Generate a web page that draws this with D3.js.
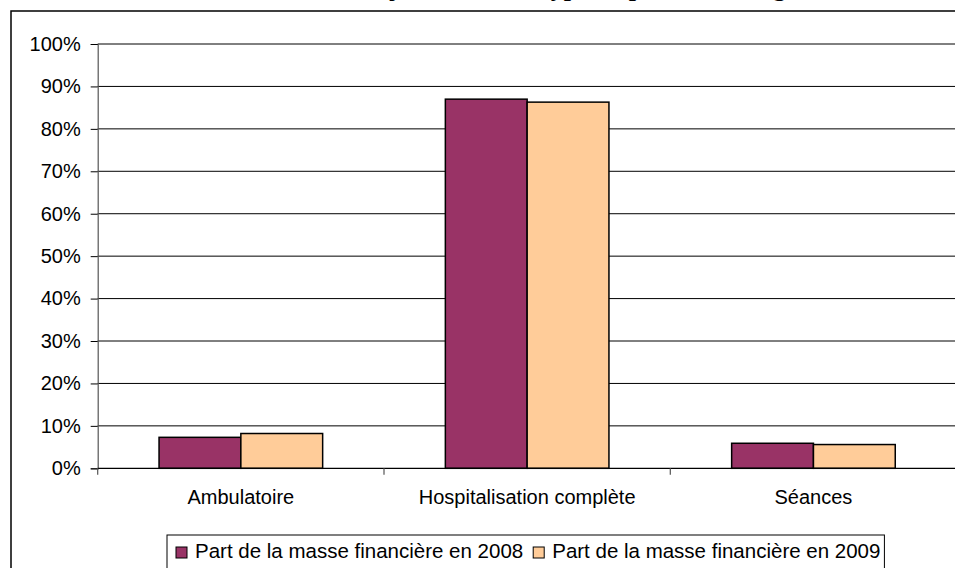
<!DOCTYPE html>
<html>
<head>
<meta charset="utf-8">
<script src="https://cdn.jsdelivr.net/npm/d3@7"></script>
<style>
  html, body { margin: 0; padding: 0; background: #fff; overflow: hidden; }
  svg { display: block; }
  text { font-family: "Liberation Sans", Arial, sans-serif; fill: #000; }
</style>
</head>
<body>
<svg id="chart" width="955" height="568"></svg>
<script>
// ---- data ----
const titleText = "Masse financière des séjours selon le type de prise en charge";
const categories = ["Ambulatoire", "Hospitalisation complète", "Séances"];
const seriesNames = ["Part de la masse financière en 2008", "Part de la masse financière en 2009"];
const values2008 = [7.3, 87.0, 5.9];
const values2009 = [8.2, 86.3, 5.6];
const yTicks = [0, 10, 20, 30, 40, 50, 60, 70, 80, 90, 100];
const seriesColors = ["#993366", "#FFCC99"];

const seriesValues = [values2008, values2009];

const svg = d3.select("#chart");

// frame (chart area border, cropped on right/bottom)
svg.append("rect")
  .attr("x", 11).attr("y", 11)
  .attr("width", 1200).attr("height", 800)
  .attr("fill", "#fff").attr("stroke", "#000").attr("stroke-width", 1.5);

// title (cut off at top edge in the reference)
svg.append("text")
  .attr("x", 465).attr("y", -4)
  .attr("text-anchor", "middle")
  .style("font-family", "'Liberation Serif', 'Times New Roman', serif")
  .style("font-weight", "bold")
  .style("font-size", "26px")
  .text(titleText);

const plotLeft = 97.7, band = 286.3;
const x0 = d3.scaleBand().domain(categories)
  .range([plotLeft, plotLeft + band * categories.length])
  .paddingInner(0).paddingOuter(0);
const x1 = d3.scaleBand().domain(seriesNames)
  .range([0, x0.bandwidth()])
  .paddingInner(0).paddingOuter(0.75);
const y = d3.scaleLinear().domain([0, 100]).range([468.3, 44]);

const plotRight = x0.range()[1];

// gridlines
svg.append("g").selectAll("line")
  .data(yTicks.filter(d => d > 0))
  .join("line")
  .attr("x1", plotLeft).attr("x2", plotRight)
  .attr("y1", d => y(d)).attr("y2", d => y(d))
  .attr("stroke", "#000").attr("stroke-width", 1);

// y axis
const yAxis = d3.axisLeft(y).tickValues(yTicks).tickSize(7).tickPadding(10)
  .tickFormat(d => d + "%");
const gy = svg.append("g").attr("transform", `translate(${plotLeft},0)`).call(yAxis);
gy.select(".domain").attr("stroke", "#555").attr("stroke-width", 1.2);
gy.selectAll(".tick line").attr("stroke", "#000");
gy.selectAll(".tick text")
  .style("font-size", "20px")
  .style("font-family", "'Liberation Sans', Arial, sans-serif")
  .attr("fill", "#000");

// bars
const groups = svg.append("g").selectAll("g")
  .data(categories)
  .join("g")
  .attr("transform", d => `translate(${x0(d)},0)`);
groups.selectAll("rect")
  .data((d, i) => seriesNames.map((s, j) => ({ s, j, v: seriesValues[j][i] })))
  .join("rect")
  .attr("x", d => x1(d.s))
  .attr("width", x1.bandwidth())
  .attr("y", d => y(d.v))
  .attr("height", d => y(0) - y(d.v))
  .attr("fill", d => seriesColors[d.j])
  .attr("stroke", "#000").attr("stroke-width", 1.5);

// x axis line + ticks
const xAxisG = svg.append("g");
xAxisG.append("line")
  .attr("x1", plotLeft).attr("x2", plotRight)
  .attr("y1", y(0)).attr("y2", y(0))
  .attr("stroke", "#000").attr("stroke-width", 1.2);
xAxisG.selectAll("line.tk")
  .data(categories.map(c => x0(c)))
  .join("line").attr("class", "tk")
  .attr("x1", d => d).attr("x2", d => d)
  .attr("y1", y(0)).attr("y2", y(0) + 6.5)
  .attr("stroke", "#555").attr("stroke-width", 1.2);
xAxisG.selectAll("text")
  .data(categories)
  .join("text")
  .attr("x", d => x0(d) + x0.bandwidth() / 2)
  .attr("y", 504.3)
  .attr("text-anchor", "middle")
  .style("font-size", "20px")
  .text(d => d);

// legend
const legend = svg.append("g");
const legBox = legend.append("rect")
  .attr("x", 167).attr("y", 535)
  .attr("height", 60)
  .attr("fill", "#fff").attr("stroke", "#000").attr("stroke-width", 1);
let cx = 176;
seriesNames.forEach((s, j) => {
  legend.append("rect")
    .attr("x", cx).attr("y", 547).attr("width", 11).attr("height", 11)
    .attr("fill", seriesColors[j]).attr("stroke", "#000").attr("stroke-width", 1);
  const t = legend.append("text")
    .attr("x", cx + 19).attr("y", 558.3)
    .style("font-size", "20.5px")
    .text(s);
  const w = t.node().getComputedTextLength();
  cx = cx + 19 + w + 10;
});
legBox.attr("width", cx - 10 + 4 - 167);
</script>
</body>
</html>
